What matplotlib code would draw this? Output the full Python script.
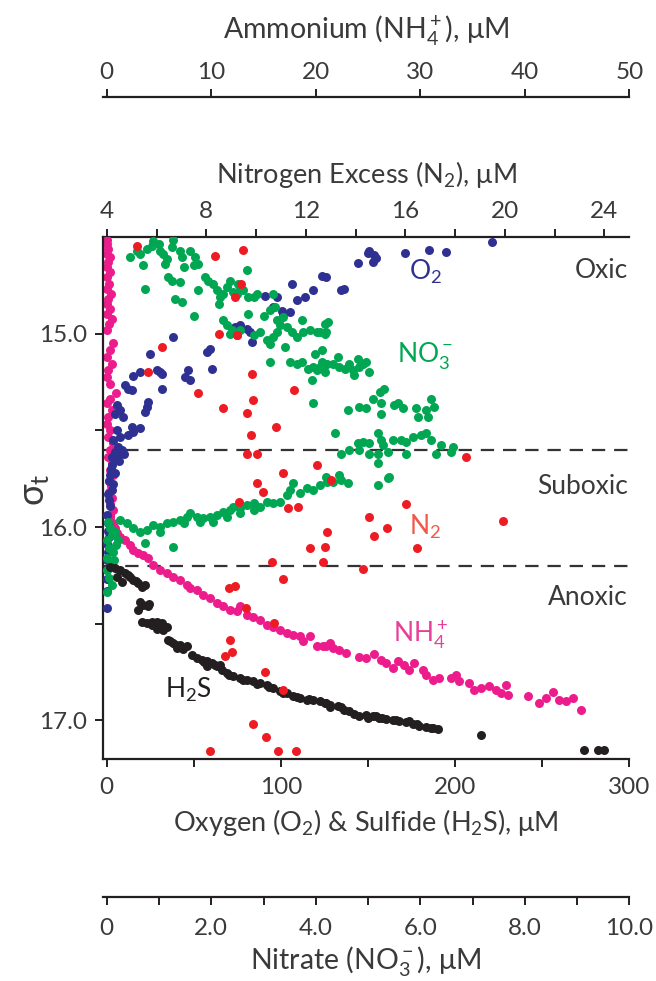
import numpy as np
import matplotlib
matplotlib.use("Agg")
import matplotlib.pyplot as plt
from matplotlib.ticker import FixedLocator, FixedFormatter

plt.rcParams['font.family'] = ['Lato', 'DejaVu Sans']
plt.rcParams['mathtext.fontset'] = 'custom'
plt.rcParams['mathtext.rm'] = 'Lato'
plt.rcParams['mathtext.it'] = 'Lato:italic'
plt.rcParams['mathtext.bf'] = 'Lato:bold'
plt.rcParams['mathtext.default'] = 'regular'

# --- profiles vs. density (sigma-t) ---
o2_conc = [221.0, 184.8, 194.8, 171.4, 150.7, 149.8, 153.6, 154.6, 152.7, 144.1,
           125.9, 134.5, 136.4, 123.4, 106.2, 118.6, 113.8, 109.1, 90.9, 97.6,
           95.6, 100.5, 105.2, 101.2, 73.7, 76.5, 80.4, 82.3, 83.2, 74.6,
           37.9, 24.9, 57.4, 59.3, 60.3, 46.8, 44.9, 47.8, 30.6, 28.7,
           31.6, 31.6, 19.1, 15.3, 10.5, 12.4, 14.4, 23.9, 23.0, 22.0,
           5.7, 7.6, 4.8, 9.5, 14.4, 19.1, 15.3, 12.4, 5.7, 7.6,
           3.8, 6.7, 4.8, 5.7, 3.0, 1.9, 3.6, 0.7, 1.9, 0.2,
           0.7, 0.2, 0.2, 0.0, 0.0, 0.0, 8.5, 10.0, 3.0, 7.0,
           2.5, 4.5, 1.5, 2.8, 1.0, 0.5, 1.2, 0.5, 0.2]
o2_sigma = [14.527, 14.566, 14.579, 14.584, 14.570, 14.585, 14.591, 14.611, 14.630, 14.633,
            14.708, 14.776, 14.768, 14.703, 14.745, 14.776, 14.811, 14.824, 14.806, 14.811,
            14.863, 14.885, 14.888, 14.897, 14.966, 14.957, 14.974, 14.992, 15.043, 15.009,
            15.018, 15.103, 15.095, 15.077, 15.181, 15.189, 15.224, 15.241, 15.198, 15.189,
            15.207, 15.284, 15.198, 15.220, 15.267, 15.284, 15.293, 15.353, 15.379, 15.405,
            15.370, 15.396, 15.413, 15.431, 15.482, 15.490, 15.508, 15.525, 15.499, 15.534,
            15.551, 15.585, 15.611, 15.637, 15.680, 15.730, 15.780, 15.830, 15.890, 15.940,
            16.020, 16.090, 16.170, 16.270, 16.330, 16.420, 15.600, 15.620, 15.640, 15.660,
            15.700, 15.720, 15.760, 15.810, 15.860, 15.980, 16.050, 16.130, 16.220]

no3_conc = [0.45, 0.57, 0.64, 0.77, 0.86, 0.89, 0.99, 1.02, 1.08, 1.15,
            1.12, 1.27, 1.24, 1.40, 1.44, 1.47, 1.59, 0.70, 0.73, 1.18,
            1.24, 1.40, 1.69, 1.66, 1.75, 1.88, 1.94, 2.04, 2.10, 2.17,
            2.14, 2.23, 2.30, 2.36, 2.42, 2.49, 2.52, 2.55, 2.61, 2.68,
            2.71, 2.81, 2.87, 1.75, 1.44, 1.31, 1.66, 2.71, 3.00, 3.12,
            3.19, 3.22, 3.25, 3.38, 3.32, 3.44, 3.54, 3.64, 3.73, 3.76,
            3.89, 4.02, 4.08, 4.18, 4.18, 2.23, 2.30, 2.36, 2.39, 2.55,
            2.81, 2.93, 3.06, 3.12, 3.19, 3.25, 3.41, 3.51, 3.64, 3.73,
            3.86, 3.95, 4.02, 4.08, 3.99, 4.11, 4.21, 4.18, 3.92, 3.95,
            3.12, 4.11, 4.23, 4.20, 4.32, 4.42, 4.45, 4.55, 4.64, 4.71,
            4.80, 4.83, 4.90, 4.96, 4.74, 5.02, 5.31, 5.22, 5.09, 5.25,
            4.83, 4.96, 4.61, 5.50, 5.57, 5.66, 5.92, 6.11, 6.21, 6.27,
            6.14, 5.95, 5.25, 4.36, 4.80, 4.90, 5.02, 5.19, 5.25, 5.28,
            5.47, 5.63, 5.73, 5.86, 6.01, 6.11, 6.21, 6.40, 6.59, 6.30,
            5.73, 5.38, 5.19, 5.02, 4.83, 4.48, 4.64, 5.19, 5.41, 4.20,
            4.45, 6.62, 0.25, 0.38, 0.51, 0.64, 0.77, 0.89, 1.02, 1.15,
            1.27, 1.40, 1.53, 1.59, 1.72, 1.85, 1.98, 2.10, 2.23, 2.36,
            2.42, 2.55, 2.68, 2.81, 2.93, 3.06, 3.19, 3.32, 3.44, 3.51,
            3.57, 3.70, 3.83, 3.95, 4.08, 4.21, 0.73, 1.27, 1.02, 1.47,
            1.79, 2.04, 2.30, 2.55, 2.81, 4.32, 4.48, 4.61, 5.19, 5.38,
            0.025, 0.063, 0.10, 0.0, 0.044, 0.12, 0.006, 0.08, 0.0, 0.044,
            0.10, 0.006, 0.16, 0.22, 0.14, 0.18]
no3_sigma = [14.605, 14.570, 14.587, 14.561, 14.544, 14.522, 14.535, 14.570, 14.587, 14.613,
             14.639, 14.518, 14.553, 14.570, 14.605, 14.656, 14.570, 14.647, 14.768, 14.708,
             14.725, 14.734, 14.605, 14.647, 14.639, 14.708, 14.725, 14.742, 14.776, 14.811,
             14.845, 14.793, 14.759, 14.725, 14.785, 14.793, 14.742, 14.759, 14.776, 14.673,
             14.811, 14.811, 14.793, 14.776, 14.837, 14.819, 14.906, 14.897, 14.906, 14.880,
             14.793, 14.863, 14.931, 14.914, 14.957, 14.966, 14.992, 15.018, 14.931, 14.992,
             14.983, 14.992, 14.992, 14.948, 15.000, 14.931, 14.957, 15.000, 14.983, 14.983,
             15.009, 14.992, 15.035, 15.052, 15.018, 14.992, 15.069, 15.147, 15.155, 15.147,
             15.181, 15.172, 15.189, 15.172, 15.103, 15.147, 15.155, 15.198, 15.241, 15.361,
             15.147, 15.086, 14.940, 14.992, 15.155, 15.121, 15.172, 15.181, 15.155, 15.189,
             15.129, 15.172, 15.155, 15.147, 15.215, 15.198, 15.284, 15.301, 15.336, 15.361,
             15.379, 15.387, 15.396, 15.370, 15.361, 15.387, 15.387, 15.396, 15.336, 15.379,
             15.431, 15.431, 15.413, 15.516, 15.568, 15.560, 15.568, 15.516, 15.551, 15.577,
             15.551, 15.551, 15.560, 15.534, 15.525, 15.516, 15.551, 15.577, 15.611, 15.620,
             15.620, 15.611, 15.620, 15.620, 15.602, 15.620, 15.602, 15.671, 15.740, 15.740,
             15.732, 15.585, 15.964, 15.981, 16.007, 16.024, 16.016, 15.990, 15.998, 15.981,
             15.973, 15.964, 15.947, 15.929, 15.947, 15.955, 15.947, 15.938, 15.921, 15.912,
             15.895, 15.903, 15.886, 15.878, 15.895, 15.869, 15.878, 15.869, 15.835, 15.809,
             15.774, 15.826, 15.800, 15.809, 15.783, 15.766, 16.084, 16.102, 16.024, 15.981,
             15.973, 15.973, 15.947, 15.929, 15.912, 15.766, 15.757, 15.774, 15.783, 15.749,
             15.974, 16.005, 16.041, 16.067, 16.108, 16.129, 16.160, 16.196, 16.222, 16.263,
             16.299, 16.336, 16.026, 16.067, 16.170, 16.093]

n2_excess = [5.20, 8.35, 9.49, 9.38, 9.16, 8.49, 9.22, 6.21, 5.67, 9.82,
             7.68, 11.53, 9.87, 8.66, 9.63, 10.80, 9.79, 9.63, 10.05, 12.44,
             11.10, 18.44, 10.03, 10.29, 9.33, 11.30, 11.70, 12.84, 12.17, 12.77,
             10.63, 12.70, 11.07, 8.93, 9.16, 9.60, 10.72, 8.96, 9.03, 8.75,
             10.36, 11.07, 9.87, 10.40, 8.15, 10.90, 11.61, 13.01, 16.03, 14.53,
             14.73, 15.26, 19.91, 16.46, 14.29]
n2_sigma = [14.549, 14.596, 14.566, 14.745, 14.811, 15.004, 15.009, 15.069, 15.198, 15.210,
            15.305, 15.289, 15.344, 15.384, 15.410, 15.482, 15.525, 15.620, 15.620, 15.680,
            15.720, 15.637, 15.774, 15.818, 15.869, 15.903, 15.898, 16.024, 16.110, 16.102,
            16.179, 16.179, 16.270, 16.313, 16.305, 16.417, 16.497, 16.587, 16.649, 16.666,
            16.752, 16.842, 17.017, 17.086, 17.160, 17.160, 17.160, 15.757, 15.881, 15.947,
            16.046, 16.007, 15.967, 16.110, 16.217]

nh4_conc = [0.0, 0.06, 0.15, 0.0, 0.32, 0.15, 0.0, 0.32, 0.06, 0.25,
            0.0, 0.38, 0.15, 0.0, 0.32, 0.06, 0.48, 0.19, 0.0, 0.63,
            0.32, 0.06, 0.48, 0.15, 0.0, 0.32, 0.89, 0.32, 0.06, 0.48,
            0.15, 0.0, 0.32, 0.15, 0.63, 0.32, 0.15, 0.48, 0.32, 0.63,
            0.25, 0.40, 0.20, 0.50, 0.30, 0.60, 0.35,
            0.32, 0.63, 0.80, 0.96, 1.27, 1.75, 2.23, 2.54, 3.02, 3.50,
            3.98, 4.46, 5.10, 5.74, 6.37, 7.01, 7.65, 7.97, 8.61, 9.24,
            9.88, 10.52, 11.16, 11.80, 12.44, 12.75, 13.39, 14.03, 14.67, 15.31,
            15.94, 16.58, 17.22, 17.86, 18.49, 18.81, 19.45, 20.09, 20.72, 21.36,
            20.98, 21.62, 22.26, 22.89, 24.17, 24.81, 25.60, 26.24, 26.72, 27.36,
            27.84, 28.47, 28.95, 29.43, 30.23, 30.55, 31.19, 31.82, 32.94, 33.42,
            33.74, 34.69, 35.17, 35.81, 36.60, 37.25, 37.72, 38.21, 38.37, 40.28,
            41.39, 42.03, 42.67, 43.31, 43.94, 44.58, 45.38]
nh4_sigma = [14.518, 14.535, 14.561, 14.587, 14.605, 14.630, 14.656, 14.682, 14.708, 14.742,
             14.768, 14.793, 14.819, 14.845, 14.871, 14.897, 14.923, 14.948, 14.983, 15.046,
             15.086, 15.121, 15.155, 15.189, 15.224, 15.258, 15.305, 15.336, 15.361, 15.396,
             15.431, 15.465, 15.499, 15.534, 15.568, 15.602, 15.637, 15.671, 15.706, 15.732,
             15.760, 15.790, 15.820, 15.850, 15.880, 15.910, 15.940,
             15.947, 15.981, 16.007, 16.033, 16.050, 16.067, 16.093, 16.119, 16.136, 16.145,
             16.162, 16.196, 16.222, 16.239, 16.257, 16.274, 16.299, 16.316, 16.325, 16.351,
             16.368, 16.394, 16.411, 16.429, 16.437, 16.411, 16.454, 16.463, 16.480, 16.506,
             16.515, 16.532, 16.549, 16.558, 16.566, 16.592, 16.566, 16.618, 16.618, 16.600,
             16.618, 16.626, 16.635, 16.652, 16.670, 16.678, 16.656, 16.687, 16.704, 16.730,
             16.695, 16.712, 16.738, 16.704, 16.738, 16.764, 16.790, 16.781, 16.781, 16.764,
             16.799, 16.807, 16.842, 16.833, 16.824, 16.842, 16.859, 16.816, 16.867, 16.876,
             16.910, 16.884, 16.855, 16.893, 16.902, 16.884, 16.945]

h2s_conc = [1.9, 4.8, 7.6, 10.5, 13.4, 15.3, 18.1, 20.1, 22.0, 19.1,
            21.0, 23.9, 18.1, 20.1, 23.0, 25.8, 28.7, 31.6, 34.4, 32.5,
            35.4, 38.2, 42.1, 45.9, 48.8, 54.5, 57.4, 60.3, 63.1, 66.0,
            68.9, 72.7, 76.5, 80.4, 84.2, 88.0, 91.8, 95.6, 99.5, 103.3,
            107.1, 111.0, 114.8, 118.6, 122.4, 125.3, 128.2, 57.4, 65.0, 40.2,
            28.7, 5.7, 8.6, 125.9, 132.6, 136.4, 139.3, 145.0, 148.9, 152.7,
            156.5, 160.3, 164.2, 168.0, 171.8, 175.7, 179.5, 183.3, 187.1, 190.0,
            214.9, 274.2, 281.9, 285.7, 134.5, 154.6, 173.7, 149.8,
            12.0, 16.5, 24.0, 26.0, 30.0, 36.5, 40.0, 44.0, 52.0, 56.0,
            62.0, 70.0, 78.0, 86.0, 93.0, 101.0, 109.0, 116.0, 128.0, 142.0,
            158.0, 166.0, 178.0, 186.0]
h2s_sigma = [16.205, 16.213, 16.222, 16.239, 16.257, 16.274, 16.291, 16.308, 16.299, 16.386,
             16.403, 16.411, 16.429, 16.489, 16.497, 16.506, 16.489, 16.497, 16.515, 16.532,
             16.583, 16.600, 16.609, 16.618, 16.661, 16.687, 16.695, 16.704, 16.721, 16.738,
             16.755, 16.773, 16.781, 16.790, 16.799, 16.807, 16.816, 16.833, 16.850, 16.859,
             16.876, 16.884, 16.893, 16.893, 16.902, 16.910, 16.919, 16.721, 16.712, 16.626,
             16.526, 16.257, 16.282, 16.910, 16.928, 16.945, 16.954, 16.979, 16.971, 16.979,
             16.988, 16.993, 17.000, 17.005, 17.010, 17.017, 17.027, 17.034, 17.039, 17.044,
             17.074, 17.151, 17.155, 17.155, 16.931, 16.976, 17.005, 16.988,
             16.250, 16.280, 16.400, 16.490, 16.510, 16.590, 16.610, 16.630, 16.680, 16.700,
             16.715, 16.765, 16.790, 16.810, 16.830, 16.860, 16.880, 16.890, 16.930, 16.965,
             16.990, 17.000, 17.020, 17.040]

zone_bounds = [15.6, 16.2]
zone_names = ['Oxic', 'Suboxic', 'Anoxic']
zone_label_sigma = [14.673, 15.790, 16.366]


# the main x axis is O2 / H2S in uM; the other species ride on linked scales
def x_to_n2(x):
    return 4.0 + 0.07 * np.asarray(x, dtype=float)


def n2_to_x(n):
    return (np.asarray(n, dtype=float) - 4.0) / 0.07


def x_to_nh4(x):
    return np.asarray(x, dtype=float) / 6.0


def nh4_to_x(a):
    return np.asarray(a, dtype=float) * 6.0


def x_to_no3(x):
    return np.asarray(x, dtype=float) / 30.0


def no3_to_x(n):
    return np.asarray(n, dtype=float) * 30.0


INK = '#231f20'
TXT = '#3a3a3a'
c_o2, c_no3, c_n2, c_nh4, c_h2s = '#2e3192', '#00a651', '#ed1c24', '#ec1c8c', '#231f20'
TICK_FS = 17.5
TITLE_FS = 19.5
LABEL_FS = 19

fig = plt.figure(figsize=(6.56, 9.81), dpi=100)
ax = fig.add_axes([0.1575, 0.2263, 0.8018, 0.5321])
ax.set_xlim(-2, 300)
ax.set_ylim(17.2, 14.5)

ms = 42
ax.scatter(nh4_to_x(nh4_conc), nh4_sigma, s=ms, color=c_nh4, lw=0, zorder=2)
ax.scatter(o2_conc, o2_sigma, s=ms, color=c_o2, lw=0, zorder=3)
ax.scatter(no3_to_x(no3_conc), no3_sigma, s=ms, color=c_no3, lw=0, zorder=4)
ax.scatter(h2s_conc, h2s_sigma, s=ms, color=c_h2s, lw=0, zorder=5)
ax.scatter(n2_to_x(n2_excess), n2_sigma, s=ms, color=c_n2, lw=0, zorder=6)

for b in zone_bounds:
    ax.axhline(b, color='#333333', lw=1.6, dashes=(6, 4), zorder=1)

for name, sg in zip(zone_names, zone_label_sigma):
    ax.text(299, sg, name, ha='right', va='center', fontsize=LABEL_FS, color=TXT)

ax.text(173.6, 14.683, 'O$_2$', color=c_o2, fontsize=LABEL_FS, va='center')
ax.text(166.7, 15.112, 'NO$_3^-$', color=c_no3, fontsize=LABEL_FS, va='center')
ax.text(173.6, 16.0, 'N$_2$', color='#f0584a', fontsize=LABEL_FS, va='center')
ax.text(164.3, 16.558, 'NH$_4^+$', color='#e8409a', fontsize=LABEL_FS, va='center')
ax.text(33.5, 16.841, 'H$_2$S', color=INK, fontsize=LABEL_FS, va='center')

for side in ['right', 'top']:
    ax.spines[side].set_visible(False)
for side in ['left', 'bottom']:
    ax.spines[side].set_linewidth(1.6)
    ax.spines[side].set_color(INK)

tick_kw = dict(direction='out', length=6, width=1.4, color=INK, labelcolor=TXT,
               labelsize=TICK_FS)
ax.xaxis.set_major_locator(FixedLocator([0, 100, 200, 300]))
ax.xaxis.set_minor_locator(FixedLocator([50, 150, 250]))
ax.yaxis.set_major_locator(FixedLocator([15.0, 16.0, 17.0]))
ax.yaxis.set_major_formatter(FixedFormatter(['15.0', '16.0', '17.0']))
ax.yaxis.set_minor_locator(FixedLocator([15.5, 16.5]))
ax.tick_params(axis='x', which='both', pad=7, **tick_kw)
ax.tick_params(axis='y', which='both', pad=5.5, **tick_kw)

cx = 0.558
ax.set_xlabel('Oxygen (O$_2$) & Sulfide (H$_2$S), μM', fontsize=TITLE_FS, color=TXT,
              va='center')
ax.xaxis.set_label_coords(cx, 1 - 822 / 981, transform=fig.transFigure)
ax.set_ylabel('σ$_t$', fontsize=26, color=TXT, va='center')
ax.yaxis.set_label_coords(35 / 656, 1 - 490 / 981, transform=fig.transFigure)

# nitrogen excess along the top frame
top = ax.secondary_xaxis('top', functions=(x_to_n2, n2_to_x))
top.xaxis.set_major_locator(FixedLocator([4, 8, 12, 16, 20, 24]))
top.xaxis.set_minor_locator(FixedLocator([6, 10, 14, 18, 22]))
top.tick_params(which='both', pad=5, **tick_kw)
top.spines['top'].set_linewidth(1.6)
top.spines['top'].set_color(INK)
top.set_xlabel('Nitrogen Excess (N$_2$), μM', fontsize=TITLE_FS, color=TXT, va='center')
top.xaxis.set_label_coords(cx, 1 - 174 / 981, transform=fig.transFigure)

# ammonium scale floating above
amm = ax.secondary_xaxis(1.2688, functions=(x_to_nh4, nh4_to_x))
amm.xaxis.set_major_locator(FixedLocator([0, 10, 20, 30, 40, 50]))
amm.tick_params(which='both', pad=4, **tick_kw)
amm.spines['top'].set_linewidth(1.6)
amm.spines['top'].set_color(INK)
amm.set_xlabel('Ammonium (NH$_4^+$), μM', fontsize=20.5, color=TXT, va='center')
amm.xaxis.set_label_coords(cx, 1 - 31 / 981, transform=fig.transFigure)

# nitrate scale floating below
nit = ax.secondary_xaxis(-0.2644, functions=(x_to_no3, no3_to_x))
nit.xaxis.set_major_locator(FixedLocator([0, 2, 4, 6, 8, 10]))
nit.xaxis.set_major_formatter(FixedFormatter(['0', '2.0', '4.0', '6.0', '8.0', '10.0']))
nit.xaxis.set_minor_locator(FixedLocator([1, 3, 5, 7, 9]))
nit.tick_params(which='both', pad=9, **tick_kw)
nit.spines['bottom'].set_linewidth(1.6)
nit.spines['bottom'].set_color(INK)
nit.set_xlabel('Nitrate (NO$_3^-$), μM', fontsize=20.5, color=TXT, va='center')
nit.xaxis.set_label_coords(cx, 1 - 962 / 981, transform=fig.transFigure)

fig.savefig('out.png', dpi=100)
